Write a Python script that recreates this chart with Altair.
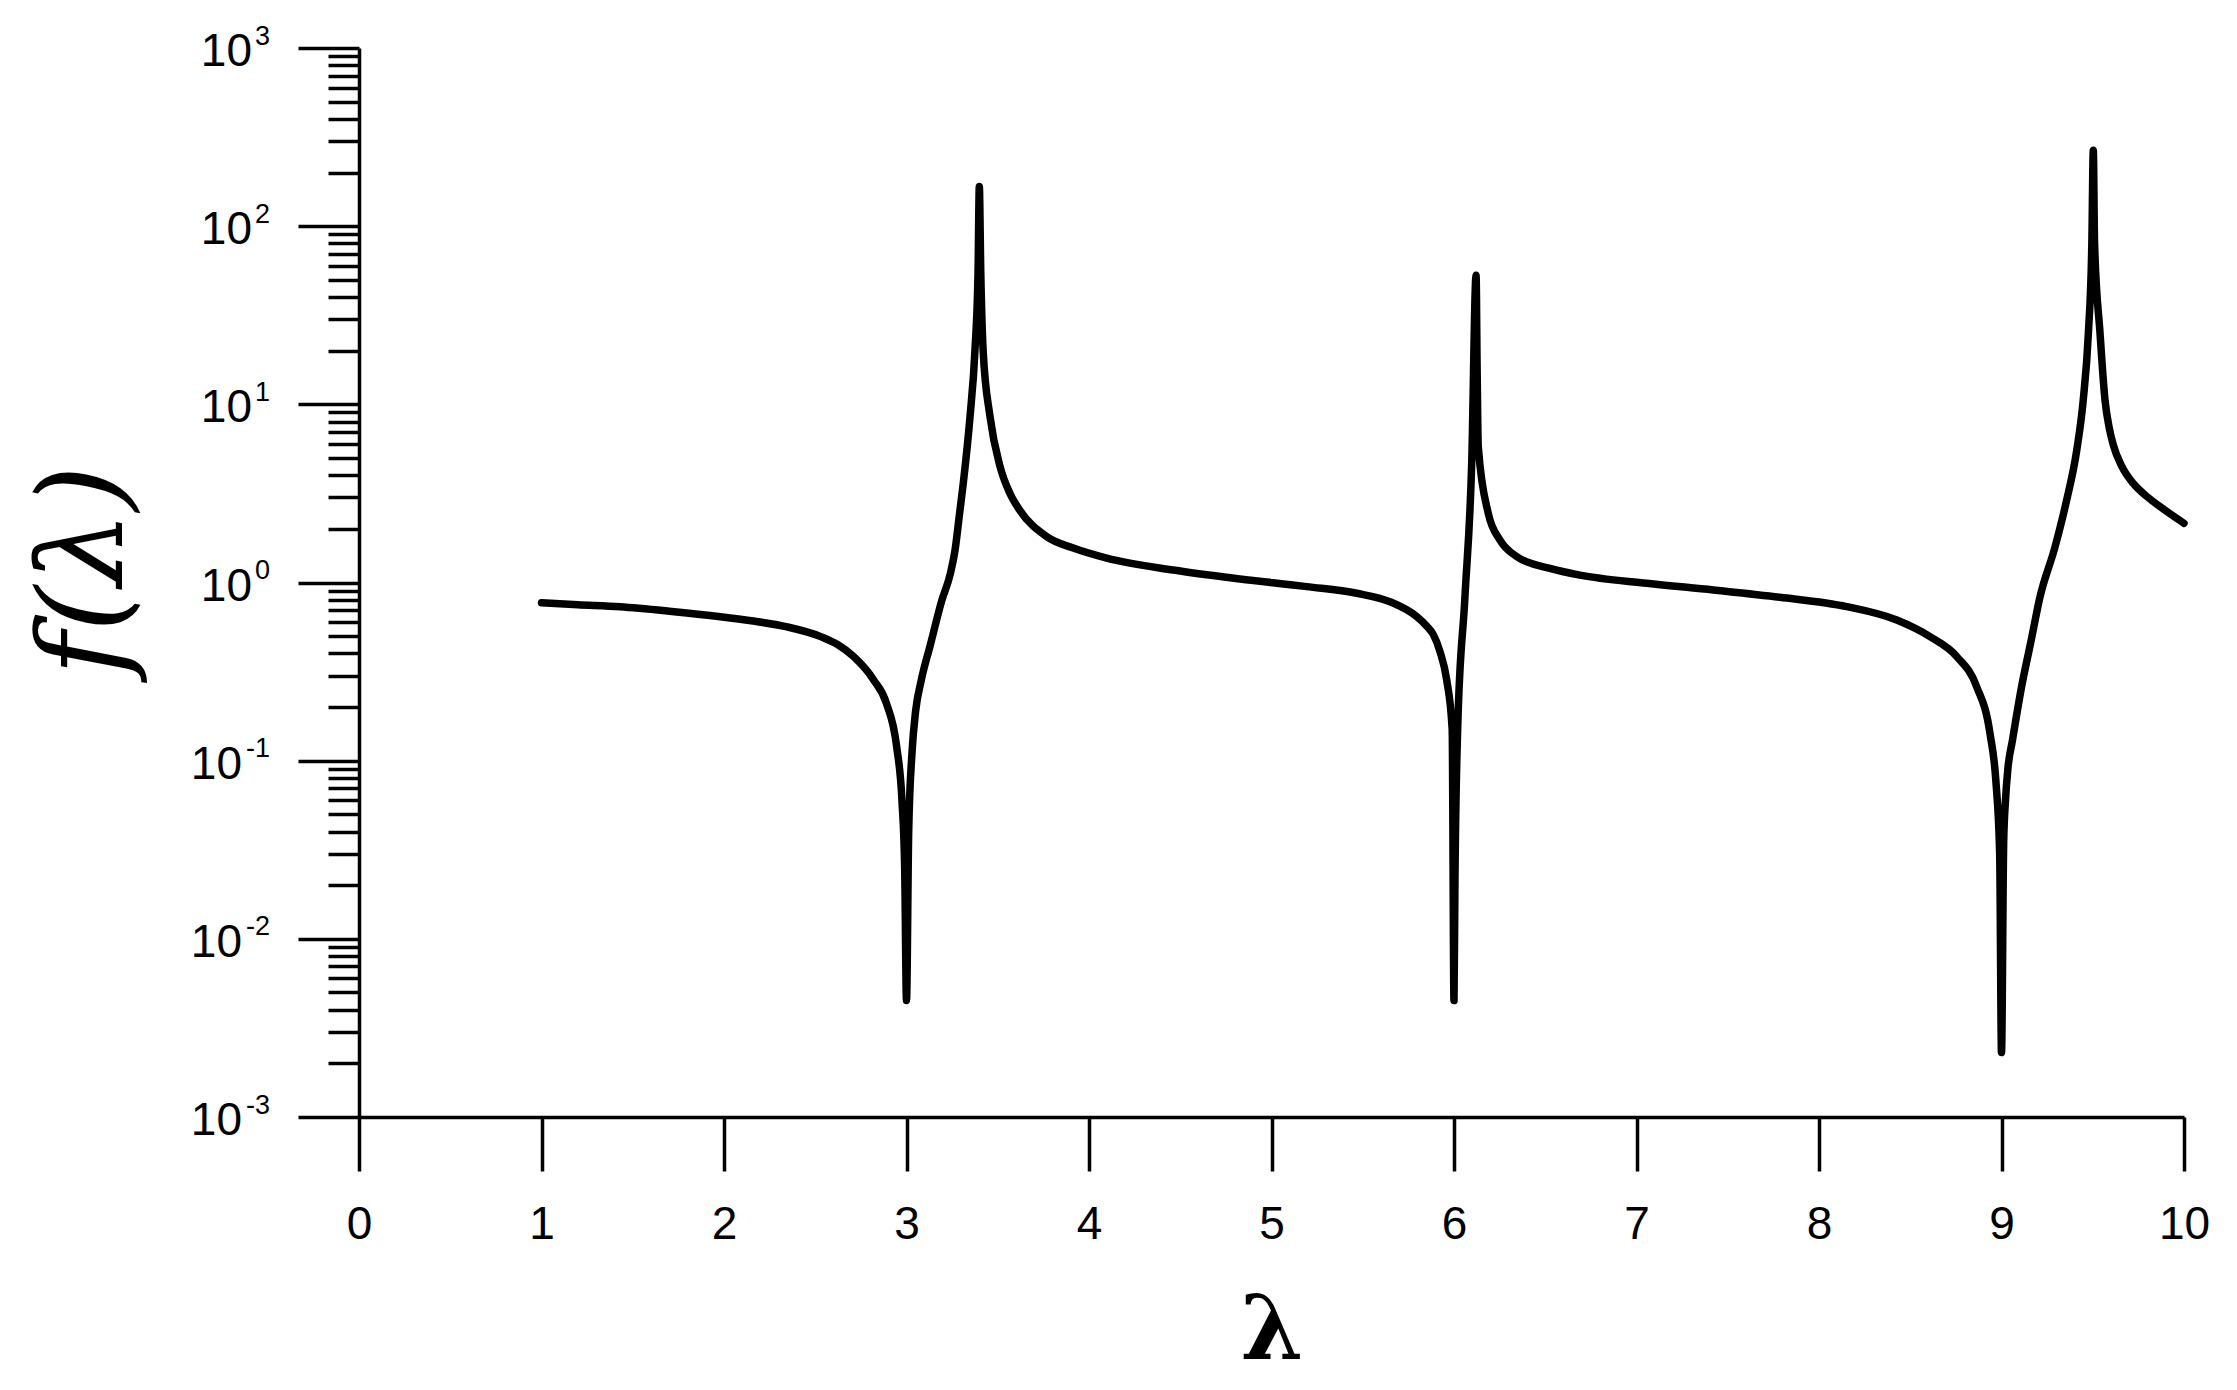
import altair as alt
import pandas as pd

# ---- data ----
lam = [1.0, 1.2, 1.43, 1.7, 1.98, 2.15, 2.34, 2.53, 2.62, 2.71, 2.82, 2.89, 2.946, 2.975, 2.99, 3.0,
       3.012, 3.03, 3.05, 3.08, 3.129, 3.193, 3.24, 3.266, 3.29, 3.311, 3.348, 3.375, 3.392, 3.399, 3.407, 3.42, 3.458,
       3.512, 3.567, 3.62, 3.768, 3.914, 4.097, 4.462, 4.827, 5.193, 5.467, 5.649, 5.796, 5.85, 5.887,
       5.923, 5.96, 5.99, 6.0, 6.005, 6.02, 6.06, 6.097, 6.121, 6.127, 6.133, 6.188, 6.252, 6.343, 6.526,
       6.69, 7.056, 7.421, 7.786, 8.152, 8.426, 8.608, 8.755, 8.864, 8.937, 8.97, 8.99, 9.0,
       9.012, 9.022, 9.035, 9.06, 9.11, 9.16, 9.211, 9.293, 9.357, 9.412, 9.448, 9.476, 9.495, 9.503, 9.51,
       9.54, 9.567, 9.59, 9.613, 9.66, 9.722, 9.8, 9.868, 10.0]
fval = [0.77, 0.75, 0.73, 0.69, 0.643, 0.61, 0.565, 0.497, 0.45, 0.384, 0.284, 0.21, 0.12, 0.06, 0.025, 0.0045,
        0.04, 0.11, 0.19, 0.28, 0.44, 0.79, 1.12, 1.52, 2.4, 3.6, 8.5, 20, 55, 167, 55, 20, 8.5,
        4.5, 3.16, 2.55, 1.81, 1.56, 1.37, 1.175, 1.047, 0.948, 0.87, 0.78, 0.643, 0.57, 0.51,
        0.41, 0.284, 0.15, 0.0045, 0.02, 0.149, 0.83, 4.67, 53, 15, 5.8, 2.44, 1.73, 1.40, 1.20,
        1.10, 0.99, 0.908, 0.826, 0.732, 0.616, 0.497, 0.384, 0.26, 0.142, 0.075, 0.03, 0.0023,
        0.035, 0.06, 0.09, 0.13, 0.26, 0.46, 0.83, 1.58, 2.9, 5.5, 10.6, 25, 80, 267, 80,
        25, 10.6, 7.4, 5.9, 4.47, 3.6, 3.02, 2.67, 2.15]

x_major = list(range(0, 11))
x_minor = [i + 0.5 for i in range(10)]
y_powers = [-3, -2, -1, 0, 1, 2, 3]
y_exp_labels = ["-3", "-2", "-1", "0", "1", "2", "3"]
y_mantissas = list(range(1, 10))

curve = pd.DataFrame({"lam": lam, "f": fval})
x_ticks = sorted(x_major + x_minor)
y_ticks = [m * 10.0 ** k for k in range(-3, 3) for m in y_mantissas] + [1000.0]

ylab = pd.DataFrame({
    "f": [10.0 ** p for p in y_powers],
    "exp": y_exp_labels,
    "base": ["10"] * len(y_powers),
    "neg": [p < 0 for p in y_powers],
})

major_y = "abs(log(datum.value)/LN10 - round(log(datum.value)/LN10)) < 1e-6"
major_x = "abs(datum.value - round(datum.value)) < 1e-6"

xscale = alt.Scale(domain=[0, 10], nice=False, zero=False)
yscale = alt.Scale(type="log", domain=[0.001, 1000], nice=False)

x_axis = alt.Axis(
    values=x_ticks, grid=False, format="d",
    labelExpr=f"({major_x}) ? format(datum.value, 'd') : ''",
    labelFont="Liberation Sans", labelFontSize=46, labelColor="black",
    labelBaseline="alphabetic", labelPadding=67, labelFlush=False, labelOverlap=False,
    tickSize={"condition": {"test": major_x, "value": 54}, "value": 27},
    tickWidth=3.5, tickColor="black", domainWidth=3.5, domainColor="black",
    title="λ", titleFont="DejaVu Serif", titleFontWeight="bold", titleFontSize=90,
    titleColor="black", titleX=912.5, titleY=241, titleAlign="center", titleBaseline="alphabetic",
)
y_axis = alt.Axis(
    values=y_ticks, grid=False, labels=False,
    tickSize={"condition": {"test": major_y, "value": 61}, "value": 31},
    tickWidth=3.5, tickColor="black", domainWidth=3.5, domainColor="black",
    title="f(λ)", titleFont="DejaVu Serif", titleFontStyle="italic", titleFontWeight="normal",
    titleFontSize=118, titleColor="black", titleAngle=-90, titleX=-238, titleY=522,
    titleAlign="center", titleBaseline="alphabetic",
)

line = alt.Chart(curve).mark_line(
    color="black", strokeWidth=7.5, interpolate="monotone", strokeJoin="round", strokeCap="round"
).encode(
    x=alt.X("lam:Q", scale=xscale, axis=x_axis),
    y=alt.Y("f:Q", scale=yscale, axis=y_axis),
)

base_pos = alt.Chart(ylab).transform_filter("!datum.neg").mark_text(
    align="right", baseline="alphabetic", dx=-107, dy=18,
    font="Liberation Sans", fontSize=46, color="black",
).encode(x=alt.datum(0), y=alt.Y("f:Q", scale=yscale), text="base:N")

base_neg = alt.Chart(ylab).transform_filter("datum.neg").mark_text(
    align="right", baseline="alphabetic", dx=-117, dy=18,
    font="Liberation Sans", fontSize=46, color="black",
).encode(x=alt.datum(0), y=alt.Y("f:Q", scale=yscale), text="base:N")

exps = alt.Chart(ylab).mark_text(
    align="right", baseline="alphabetic", dx=-89, dy=-3.5,
    font="Liberation Sans", fontSize=27, color="black",
).encode(x=alt.datum(0), y=alt.Y("f:Q", scale=yscale), text="exp:N")

chart = alt.layer(line, base_pos, base_neg, exps).properties(
    width=1825, height=1069,
    autosize=alt.AutoSizeParams(type="none"),
    padding={"left": 351, "top": 40, "right": 30, "bottom": 262},
    background="white",
).configure_view(stroke=None)

chart.save("out.html", embed_options={"renderer": "svg", "actions": False})
